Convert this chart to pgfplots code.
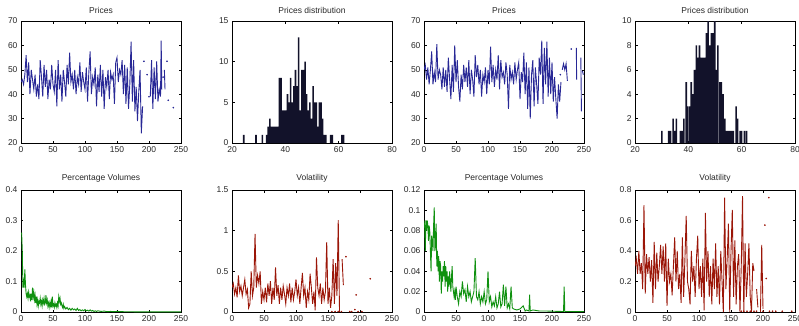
\documentclass[border=0pt]{standalone}
\usepackage{pgfplots}
\pgfplotsset{compat=1.18}
\usepackage{fontspec}
\setmainfont{Liberation Sans}
\definecolor{pblue}{RGB}{40,40,150}
\definecolor{pgreen}{RGB}{15,145,15}
\definecolor{pred}{RGB}{155,22,8}
\definecolor{pnavy}{RGB}{18,18,42}
\definecolor{tcol}{RGB}{40,40,40}
\pgfplotsset{
  myax/.style={
    width=160pt, height=122pt, scale only axis, anchor=south west,
    tick align=inside, major tick length=2.5pt,
    every tick/.style={black, line width=0.4pt},
    axis line style={black, line width=0.5pt},
    tick label style={font=\fontsize{8.5}{9}\selectfont, color=tcol},
    title style={font=\fontsize{8.5}{9}\selectfont, color=tcol, yshift=-2pt},
    /pgf/number format/assume math mode=true,
    scaled y ticks=false, scaled x ticks=false,
    unbounded coords=jump, clip=true,
  },
  serax/.style={myax, xmin=0, xmax=250, xtick={0,50,100,150,200,250}},
  histax/.style={myax, xmin=20, xmax=80, xtick={20,40,60,80}},
}
\begin{document}
\begin{tikzpicture}
\useasboundingbox (0,0) rectangle (799pt,325pt);
% ---------- Panel 1: Prices ----------
\begin{axis}[serax, at={(21pt,182pt)}, ymin=20, ymax=70, ytick={20,30,40,50,60,70}, title={Prices}]
\addplot[pblue, line width=0.9pt] coordinates {
(0,45)(2,46)(4,44)(6,48)(8,56)(10,45)(12,53)(14,40)(16,50)(18,46)(20,42)(22,48)(24,39)(26,44)(28,38)(30,54)(32,47)(34,39)(36,52)(38,43)(40,50)(42,38)(44,46)(46,42)(48,52)(50,44)(52,41)(54,50)(56,35)(58,54)(60,42)(62,48)(64,37)(66,50)(68,45)(70,39)(72,52)(74,44)(76,57)(78,45)(80,48)(82,42)(84,50)(86,40)(88,47)(90,44)(92,53)(94,41)(96,49)(98,45)(100,42)(102,51)(104,37)(106,49)(108,57.5)(110,40)(112,47)(114,44)(116,51)(118,35)(120,48)(122,41)(124,52)(126,39)(128,50)(130,34)(132,47)(134,43)(136,50)(138,38)(140,49)(142,46)(144,48)(146,36)(148,53)(150,55)(152,45)(154,50)(156,48)(158,54)(160,40)(162,52)(164,36)(166,51)(168,34)(170,44)(172,61.5)(174,37)(176,54)(178,33)(180,43)(182,29)(184,41)(186,50)(188,24)(190,35)(191,nan)(202,39)(204,54)(206,34)(208,51)(210,38)(212,53.5)(214,37)(216,42)(218,39)(219,62)(220,42)(221,nan)(224,50)(225,42)(226,nan)
};
\addplot[only marks, mark=*, mark size=0.6pt, pblue] coordinates {(192,53.5)(197,48)(200,39)(222,47)(228,53.5)(230,37.5)(238,34.5)};
\end{axis}
% ---------- Panel 2: Prices distribution ----------
\begin{axis}[histax, at={(232pt,182pt)}, ymin=0, ymax=15, ytick={0,5,10,15}, title={Prices distribution}]
\addplot[ybar, bar width=0.6, fill=pnavy, draw=none] coordinates {
(24.4,1)(29,1)(31.4,1)(33,1)(33.6,2)(34.2,3)(34.8,2)(35.4,2)(36,2)(36.6,2)(37.2,2)(37.8,8)(38.4,8)(39,4)(39.6,4)(40.2,4)(40.8,6)(41.4,5)(42,8)(42.6,5)(43.2,7)(43.8,9)(44.4,7)(45,13)(45.6,4)(46.2,9)(46.8,9)(47.4,10)(48,6)(48.6,4)(49.2,5)(49.8,3)(50.4,7)(51,5)(51.6,5)(52.2,2)(52.8,5)(53.4,5)(54,3)(54.6,1)(55.2,1)(57,1)(57.6,1)(61.2,1)(61.8,1)
};
\end{axis}
% ---------- Panel 3: Prices ----------
\begin{axis}[serax, at={(424pt,182pt)}, ymin=20, ymax=70, ytick={20,30,40,50,60,70}, title={Prices}]
\addplot[pblue, line width=0.9pt] coordinates {
(0,50)(2,52)(4,46)(6,51)(8,44)(10,50)(12,57.5)(14,44)(16,49)(18,45)(20,60.5)(22,46)(24,50)(26,48)(28,42)(30,51)(32,43)(34,50)(36,41)(38,55)(40,46)(42,38)(44,52)(46,41)(48,60)(50,45)(52,54)(54,43)(56,37)(58,48)(60,42)(62,52)(64,45)(66,51)(68,43)(70,54)(72,40)(74,50)(76,46)(78,39)(80,56)(82,47)(84,52)(86,44)(88,50)(90,39)(92,48)(94,45)(96,51)(98,40)(100,50)(102,44)(104,59.5)(106,45)(108,52)(110,43)(112,50)(114,46)(116,56)(118,42)(120,54)(122,47)(124,49)(126,44)(128,53)(130,48)(132,34)(134,52)(136,46)(138,49)(140,44)(142,53)(144,46)(146,50)(148,53)(150,38)(152,49)(154,45)(156,57)(158,40)(160,53)(162,34)(164,51)(166,30)(168,48)(170,54)(172,35)(174,51)(176,44)(178,36)(180,55)(182,48)(184,62)(186,36)(188,59)(190,44)(192,61.5)(194,39)(196,55)(198,40)(200,53)(202,37)(204,47)(206,38)(208,30)(210,44)(212,37)(214,45)(215,nan)(216,50)(218,52.5)(220,50)(222,52.5)(224,45.5)(225,nan)(238,59)(238.5,46)(239,nan)(245,55)(246,33)(247,nan)(247.5,49.5)(249,48)
};
\addplot[only marks, mark=*, mark size=0.6pt, pblue] coordinates {(230,58.5)(213,48)};
\end{axis}
% ---------- Panel 4: Prices distribution ----------
\begin{axis}[histax, at={(635pt,182pt)}, ymin=0, ymax=10, ytick={0,2,4,6,8,10}, title={Prices distribution}]
\addplot[ybar, bar width=0.6, fill=pnavy, draw=none] coordinates {
(30.1,1)(32.6,1)(33.3,1)(34.3,2)(34.8,1)(35.5,2)(37,1)(37.7,1)(38.3,2)(39.2,5)(39.8,3)(40.6,3)(41.1,5)(41.7,4)(42.3,6)(43,8)(43.6,7)(44.2,8)(44.9,7)(45.5,7)(46.1,7)(46.8,9)(47.4,10)(48,8)(48.7,9)(49.3,9)(49.9,10)(50.5,6)(51.1,8)(51.8,5)(52.4,5)(53,4)(53.7,2)(54.3,1)(55,1)(55.6,1)(56.2,1)(56.9,1)(57.9,3)(58.5,2)(59.4,1)(60,1)(61,1)(61.8,1)
};
\end{axis}
% ---------- Panel 5: Percentage Volumes ----------
\begin{axis}[serax, at={(21pt,13pt)}, ymin=0, ymax=0.4, ytick={0,0.1,0.2,0.3,0.4}, title={Percentage Volumes}]
\addplot[pgreen, line width=0.9pt] coordinates {
(1,0.26)(2,0.2)(3,0.08)(4,0.1)(5,0.08)(6,0.14)(7,0.09)(8,0.06)(9,0.05)(10,0.06)(11,0.045)(12,0.065)(13,0.05)(14,0.055)(15,0.035)(16,0.06)(17,0.04)(18,0.08)(19,0.05)(20,0.065)(21,0.04)(22,0.055)(23,0.03)(24,0.05)(25,0.025)(26,0.04)(27,0.02)(28,0.035)(29,0.03)(30,0.045)(31,0.025)(32,0.035)(33,0.02)(34,0.04)(35,0.03)(36,0.045)(37,0.025)(38,0.03)(39,0.055)(40,0.03)(41,0.04)(42,0.02)(43,0.03)(44,0.015)(45,0.03)(46,0.02)(47,0.035)(48,0.015)(49,0.05)(50,0.02)(51,0.025)(52,0.015)(53,0.03)(54,0.02)(55,0.025)(56,0.015)(57,0.03)(58,0.02)(59,0.05)(60,0.035)(61,0.045)(62,0.025)(63,0.03)(64,0.02)(65,0.015)(66,0.025)(67,0.012)(68,0.018)(70,0.01)(72,0.015)(74,0.008)(76,0.012)(78,0.006)(80,0.012)(82,0.007)(84,0.01)(86,0.005)(88,0.012)(90,0.005)(92,0.008)(94,0.004)(96,0.007)(98,0.004)(100,0.008)(102,0.004)(104,0.006)(106,0.003)(108,0.007)(110,0.003)(112,0.005)(114,0.002)(116,0.004)(118,0.002)(120,0.004)(125,0.002)(130,0.003)(135,0.001)(140,0.002)(145,0.001)(150,0.002)(160,0.001)(170,0.001)(180,0.0005)(200,0.0005)(220,0.0003)(250,0.0002)
};
\end{axis}
% ---------- Panel 6: Volatility ----------
\begin{axis}[serax, at={(232pt,13pt)}, ymin=0, ymax=1.5, ytick={0,0.5,1,1.5}, title={Volatility}]
\addplot[pred, line width=0.9pt] coordinates {
(0,0.3)(2,0.35)(4,0.22)(6,0.3)(8,0.18)(10,0.45)(12,0.25)(14,0.32)(16,0.2)(18,0.3)(20,0.4)(22,0.22)(24,0.28)(26,0.05)(28,0.1)(30,0.5)(32,0.2)(34,0.3)(36,0.96)(38,0.3)(40,0.45)(42,0.35)(44,0.5)(46,0.1)(48,0.25)(50,0.15)(52,0.3)(54,0.12)(56,0.35)(58,0.2)(60,0.38)(62,0.1)(64,0.3)(66,0.15)(68,0.55)(70,0.2)(72,0.33)(74,0.1)(76,0.3)(78,0.15)(80,0.32)(82,0.22)(84,0.1)(86,0.3)(88,0.2)(90,0.35)(92,0.12)(94,0.3)(96,0.15)(98,0.25)(100,0.4)(102,0.2)(104,0.3)(106,0.1)(108,0.3)(110,0.48)(112,0.2)(114,0.3)(116,0.05)(118,0.25)(120,0.15)(122,0.47)(124,0.3)(126,0.1)(128,0.25)(130,0.02)(132,0.67)(134,0.3)(136,0.2)(138,0.35)(140,0.1)(142,0.3)(144,0.15)(146,0.25)(148,0.86)(150,0.1)(152,0.3)(154,0.05)(156,0.2)(158,0.65)(160,0.1)(162,0.6)(164,0.2)(166,1.13)(168,0.0)(169,nan)(172,0.65)(174,0.33)(175,nan)
};
\addplot[only marks, mark=*, mark size=0.6pt, pred] coordinates {(178,0.68)(192,0.03)(194,0.21)(216,0.41)(156,0.005)(161,0.005)(166,0.005)(171,0.005)(184,0.005)(187,0.005)(197,0.005)(203,0.005)};
\end{axis}
% ---------- Panel 7: Percentage Volumes ----------
\begin{axis}[serax, at={(424pt,13pt)}, ymin=0, ymax=0.12, ytick={0,0.02,0.04,0.06,0.08,0.1,0.12}, yticklabels={0,0.02,0.04,0.06,0.08,0.1,0.12}, title={Percentage Volumes}]
\addplot[pgreen, line width=0.9pt] coordinates {
(0,0.09)(1,0.085)(2,0.06)(3,0.09)(4,0.08)(5,0.09)(6,0.085)(7,0.07)(8,0.085)(9,0.08)(10,0.06)(11,0.04)(12,0.075)(13,0.07)(14,0.06)(15,0.085)(16,0.103)(17,0.06)(18,0.065)(19,0.087)(20,0.045)(21,0.06)(22,0.04)(23,0.055)(24,0.03)(25,0.05)(26,0.045)(27,0.018)(28,0.04)(29,0.03)(30,0.045)(31,0.035)(32,0.05)(33,0.025)(34,0.045)(35,0.03)(36,0.04)(37,0.02)(38,0.035)(39,0.025)(40,0.04)(41,0.03)(42,0.02)(43,0.035)(44,0.045)(45,0.025)(46,0.02)(47,0.015)(48,0.02)(49,0.012)(50,0.025)(52,0.015)(54,0.008)(56,0.02)(58,0.015)(60,0.03)(62,0.018)(64,0.022)(66,0.01)(68,0.025)(70,0.015)(72,0.02)(74,0.01)(76,0.015)(78,0.02)(80,0.053)(82,0.015)(84,0.012)(86,0.02)(88,0.008)(90,0.015)(92,0.01)(94,0.02)(96,0.008)(98,0.012)(100,0.04)(102,0.01)(104,0.015)(106,0.005)(108,0.01)(110,0.006)(112,0.015)(114,0.004)(116,0.008)(118,0.02)(120,0.005)(122,0.008)(124,0.027)(126,0.006)(128,0.025)(130,0.004)(132,0.008)(134,0.003)(136,0.025)(138,0.004)(140,0.003)(145,0.002)(150,0.003)(155,0.006)(158,0.001)(160,0.002)(164,0.001)(165,0.017)(166,0.001)(170,0.002)(180,0.001)(190,0.001)(200,0.0008)(210,0.0006)(218,0.0005)(219,0.025)(220,0.0005)(230,0.0005)(240,0.0003)(250,0.0005)
};
\end{axis}
% ---------- Panel 8: Volatility ----------
\begin{axis}[serax, at={(635pt,13pt)}, ymin=0, ymax=0.8, ytick={0,0.2,0.4,0.6,0.8}, title={Volatility}]
\addplot[pred, line width=0.9pt] coordinates {
(0,0.3)(2,0.35)(4,0.25)(6,0.4)(8,0.25)(10,0.32)(12,0.15)(14,0.7)(16,0.12)(18,0.38)(20,0.25)(22,0.36)(24,0.2)(26,0.34)(28,0.06)(30,0.46)(32,0.15)(34,0.39)(36,0.2)(38,0.3)(40,0.44)(42,0.25)(44,0.43)(46,0.2)(48,0.45)(50,0.04)(52,0.35)(54,0.2)(56,0.25)(58,0.11)(60,0.3)(62,0.49)(64,0.2)(66,0.4)(68,0.15)(70,0.25)(72,0.06)(74,0.49)(76,0.1)(78,0.35)(80,0.63)(82,0.2)(84,0.15)(86,0.05)(88,0.4)(90,0.2)(92,0.3)(94,0.1)(96,0.35)(98,0.5)(100,0.15)(102,0.3)(104,0.1)(106,0.35)(108,0.01)(110,0.65)(112,0.2)(114,0.4)(116,0.1)(118,0.3)(120,0.05)(122,0.35)(124,0.15)(126,0.45)(128,0.1)(130,0.3)(132,0.05)(134,0.4)(136,0.2)(138,0.0)(140,0.75)(142,0.15)(144,0.35)(146,0.58)(148,0.0)(150,0.4)(152,0.67)(154,0.1)(156,0.47)(158,0.05)(160,0.3)(162,0.38)(164,0.0)(166,0.3)(168,0.76)(170,0.0)(172,0.45)(174,0.1)(176,0.25)(178,0.45)(180,0.1)(182,0.0)(184,0.32)(186,0.27)(187,nan)(190,0.15)(192,0.03)(193,nan)(196,0.0)(198,0.44)(200,0.02)(201,nan)
};
\addplot[only marks, mark=*, mark size=0.6pt, pred] coordinates {(203,0.57)(205,0.22)(209,0.75)(166,0.005)(170,0.005)(175,0.005)(180,0.005)(186,0.005)(190,0.005)(200,0.005)(210,0.005)(215,0.005)(220,0.005)(230,0.005)(245,0.005)};
\end{axis}
\end{tikzpicture}
\end{document}
